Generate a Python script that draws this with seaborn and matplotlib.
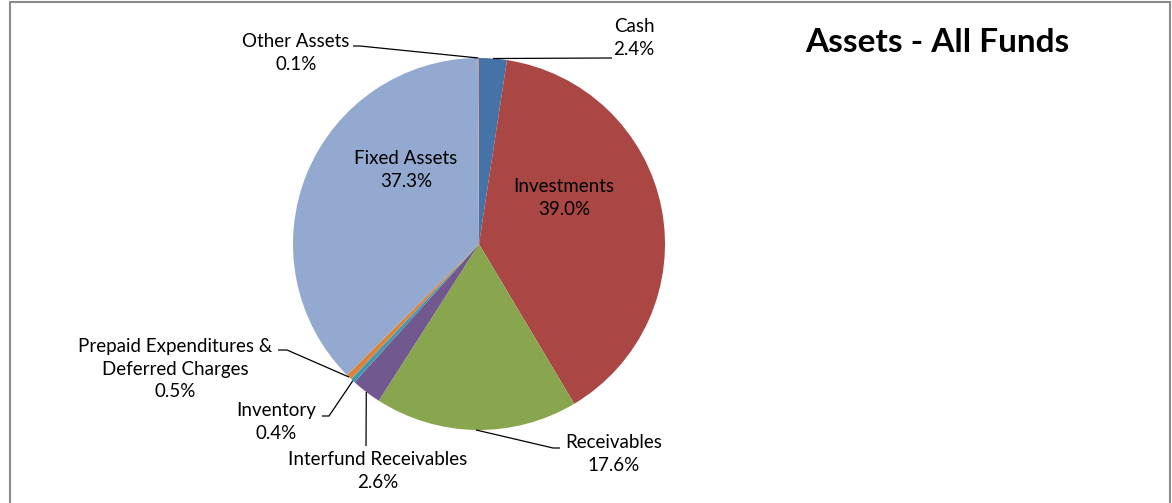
import numpy as np
import matplotlib
matplotlib.use("Agg")
import matplotlib.pyplot as plt
from matplotlib.patches import Rectangle
import seaborn as sns

# Asset mix, clockwise from 12 o'clock
categories = ["Cash", "Investments", "Receivables", "Interfund Receivables",
              "Inventory", "Prepaid Expenditures &\nDeferred Charges",
              "Fixed Assets", "Other Assets"]
shares = [2.4, 39.0, 17.6, 2.6, 0.4, 0.5, 37.3, 0.1]
slice_colors = ["#4572A7", "#AA4643", "#89A54E", "#71588F",
                "#4198AF", "#DB843D", "#93A9CF", "#D19392"]
title = "Assets - All Funds"

sns.set_theme(style="white")
plt.rcParams["font.family"] = ["Lato", "DejaVu Sans"]

W, H = 1172, 503
fig = plt.figure(figsize=(W / 100, H / 100), dpi=100)
ax = fig.add_axes([0, 0, 1, 1])

cx, cy, R = 479, H - 244, 186
wedges, _ = ax.pie(shares, colors=sns.color_palette(slice_colors),
                   startangle=90, counterclock=False,
                   center=(cx, cy), radius=R,
                   wedgeprops=dict(linewidth=0))
ax.set_xlim(0, W)
ax.set_ylim(0, H)
ax.set_aspect("equal")
ax.axis("off")

FS = 13.5
txt = dict(fontsize=FS, color="black", ha="center", va="center",
           linespacing=1.4)

def label(i):
    return f"{categories[i]}\n{shares[i]:.1f}%"

def anchor(i):
    w = wedges[i]
    a = np.deg2rad((w.theta1 + w.theta2) / 2)
    return cx + R * np.cos(a), cy + R * np.sin(a)

# Labels inside the two largest slices
inside = {1: (564, 198), 6: (406, 170)}
for i, (x, y) in inside.items():
    ax.text(x, H - y, label(i), **txt)

# Outside labels: text centre, elbow of the leader, end of the short tick
outside = {
    0: ((634, 38), (608, 58), (612, 58)),
    7: ((296, 53), (360, 46), (353, 46)),
    2: ((614, 454), (553, 448), (560, 448)),
    3: ((378, 471), (366, 446), (366, 446)),
    4: ((276, 422), (329, 416), (322, 416)),
    5: ((175, 369), (287, 350), (278, 350)),
}
for i, ((tx, ty), (ex, ey), (fx, fy)) in outside.items():
    ax.text(tx, H - ty, label(i), **txt)
    ax0, ay0 = anchor(i)
    ax.plot([ax0, ex, fx], [ay0, H - ey, H - fy], color="black",
            lw=0.9, solid_capstyle="butt")

ax.text(937, H - 42, title, fontsize=24, fontweight="bold",
        color="black", ha="center", va="center")

# Chart-area frame
ax.add_patch(Rectangle((10, -20), 1160, H - 2 + 20, fill=False,
                       edgecolor="#8a8a8a", lw=1.5, clip_on=False))

fig.savefig("out.png", dpi=100)
